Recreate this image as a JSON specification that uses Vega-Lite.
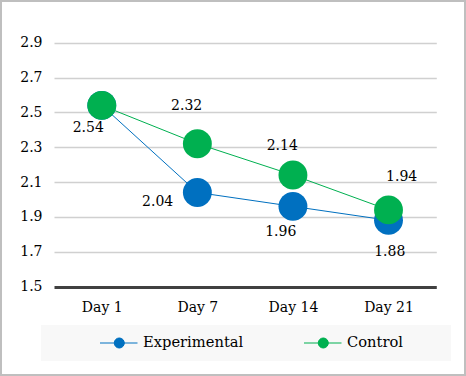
{
  "$schema": "https://vega.github.io/schema/vega-lite/v6.json",
  "width": 464,
  "height": 374,
  "padding": 1,
  "autosize": {"type": "none"},
  "background": "white",
  "config": {
    "view": {"stroke": "#bfbfbf", "strokeWidth": 2},
    "font": "DejaVu Serif",
    "text": {"font": "DejaVu Serif"},
    "axis": {"labelFont": "DejaVu Serif", "labelColor": "#000000", "labelFontSize": 14},
    "legend": {"labelFont": "DejaVu Serif"}
  },
  "data": {
    "values": [
      {"day": "Day 1", "series": "Experimental", "value": 2.54},
      {"day": "Day 7", "series": "Experimental", "value": 2.04},
      {"day": "Day 14", "series": "Experimental", "value": 1.96},
      {"day": "Day 21", "series": "Experimental", "value": 1.88},
      {"day": "Day 1", "series": "Control", "value": 2.54},
      {"day": "Day 7", "series": "Control", "value": 2.32},
      {"day": "Day 14", "series": "Control", "value": 2.14},
      {"day": "Day 21", "series": "Control", "value": 1.94}
    ]
  },
  "encoding": {
    "x": {
      "field": "day",
      "type": "ordinal",
      "sort": ["Day 1", "Day 7", "Day 14", "Day 21"],
      "scale": {"type": "point", "range": [53, 435.3], "padding": 0.5},
      "axis": {
        "title": null,
        "orient": "bottom",
        "offset": -88.5,
        "domain": false,
        "ticks": false,
        "grid": false,
        "labelAngle": 0,
        "labelPadding": 14
      }
    },
    "y": {
      "field": "value",
      "type": "quantitative",
      "scale": {"domain": [1.5, 2.9], "range": [285.5, 41.7], "nice": false, "zero": false},
      "axis": {
        "title": null,
        "values": [1.5, 1.7, 1.9, 2.1, 2.3, 2.5, 2.7, 2.9],
        "format": ".1f",
        "offset": -53,
        "domain": false,
        "ticks": false,
        "labelPadding": 12,
        "grid": true,
        "gridColor": {"condition": {"test": "datum.value === 1.5", "value": "#404040"}, "value": "#d0d0d0"},
        "gridWidth": {"condition": {"test": "datum.value === 1.5", "value": 3}, "value": 1.5}
      }
    },
    "color": {
      "field": "series",
      "type": "nominal",
      "scale": {"domain": ["Experimental", "Control"], "range": ["#0070c0", "#00b050"]},
      "legend": {
        "title": " ",
        "titleOrient": "right",
        "titlePadding": 40,
        "titleFontSize": 11,
        "orient": "none",
        "legendX": 40,
        "legendY": 324,
        "direction": "horizontal",
        "fillColor": "#f8f8f8",
        "padding": 8,
        "clipHeight": 20,
        "columnPadding": 9,
        "symbolType": "M0.148,0H1M0.7,0A0.114,0.114,0,1,1,0.472,0A0.114,0.114,0,1,1,0.7,0Z",
        "symbolSize": 7744,
        "symbolStrokeWidth": 1,
        "labelFont": "DejaVu Serif",
        "labelFontSize": 14.7,
        "labelColor": "#000000",
        "labelOffset": 5,
        "labelLimit": 300,
        "encode": {
          "symbols": {
            "update": {
              "fill": {"scale": "color", "field": "value"},
              "stroke": {"scale": "color", "field": "value"},
              "opacity": {"value": 1}
            }
          }
        }
      }
    }
  },
  "layer": [
    {
      "mark": {"type": "line", "strokeWidth": 1}
    },
    {
      "mark": {"type": "point", "filled": true, "size": 835, "opacity": 1}
    },
    {
      "transform": [{"filter": "datum.series === 'Experimental' && datum.day === 'Day 1'"}],
      "mark": {"type": "text", "dx": -13.5, "dy": 23, "fontSize": 14, "font": "DejaVu Serif", "baseline": "middle"},
      "encoding": {"text": {"field": "value", "type": "quantitative", "format": ".2f"}, "color": {"value": "#000000"}}
    },
    {
      "transform": [{"filter": "datum.series === 'Experimental' && datum.day === 'Day 7'"}],
      "mark": {"type": "text", "dx": -39.7, "dy": 10, "fontSize": 14, "font": "DejaVu Serif", "baseline": "middle"},
      "encoding": {"text": {"field": "value", "type": "quantitative", "format": ".2f"}, "color": {"value": "#000000"}}
    },
    {
      "transform": [{"filter": "datum.series === 'Experimental' && datum.day === 'Day 14'"}],
      "mark": {"type": "text", "dx": -12.2, "dy": 25.3, "fontSize": 14, "font": "DejaVu Serif", "baseline": "middle"},
      "encoding": {"text": {"field": "value", "type": "quantitative", "format": ".2f"}, "color": {"value": "#000000"}}
    },
    {
      "transform": [{"filter": "datum.series === 'Experimental' && datum.day === 'Day 21'"}],
      "mark": {"type": "text", "dx": 1.2, "dy": 31.7, "fontSize": 14, "font": "DejaVu Serif", "baseline": "middle"},
      "encoding": {"text": {"field": "value", "type": "quantitative", "format": ".2f"}, "color": {"value": "#000000"}}
    },
    {
      "transform": [{"filter": "datum.series === 'Control' && datum.day === 'Day 7'"}],
      "mark": {"type": "text", "dx": -10.7, "dy": -37.9, "fontSize": 14, "font": "DejaVu Serif", "baseline": "middle"},
      "encoding": {"text": {"field": "value", "type": "quantitative", "format": ".2f"}, "color": {"value": "#000000"}}
    },
    {
      "transform": [{"filter": "datum.series === 'Control' && datum.day === 'Day 14'"}],
      "mark": {"type": "text", "dx": -10.7, "dy": -29.3, "fontSize": 14, "font": "DejaVu Serif", "baseline": "middle"},
      "encoding": {"text": {"field": "value", "type": "quantitative", "format": ".2f"}, "color": {"value": "#000000"}}
    },
    {
      "transform": [{"filter": "datum.series === 'Control' && datum.day === 'Day 21'"}],
      "mark": {"type": "text", "dx": 13.1, "dy": -33.2, "fontSize": 14, "font": "DejaVu Serif", "baseline": "middle"},
      "encoding": {"text": {"field": "value", "type": "quantitative", "format": ".2f"}, "color": {"value": "#000000"}}
    }
  ]
}
